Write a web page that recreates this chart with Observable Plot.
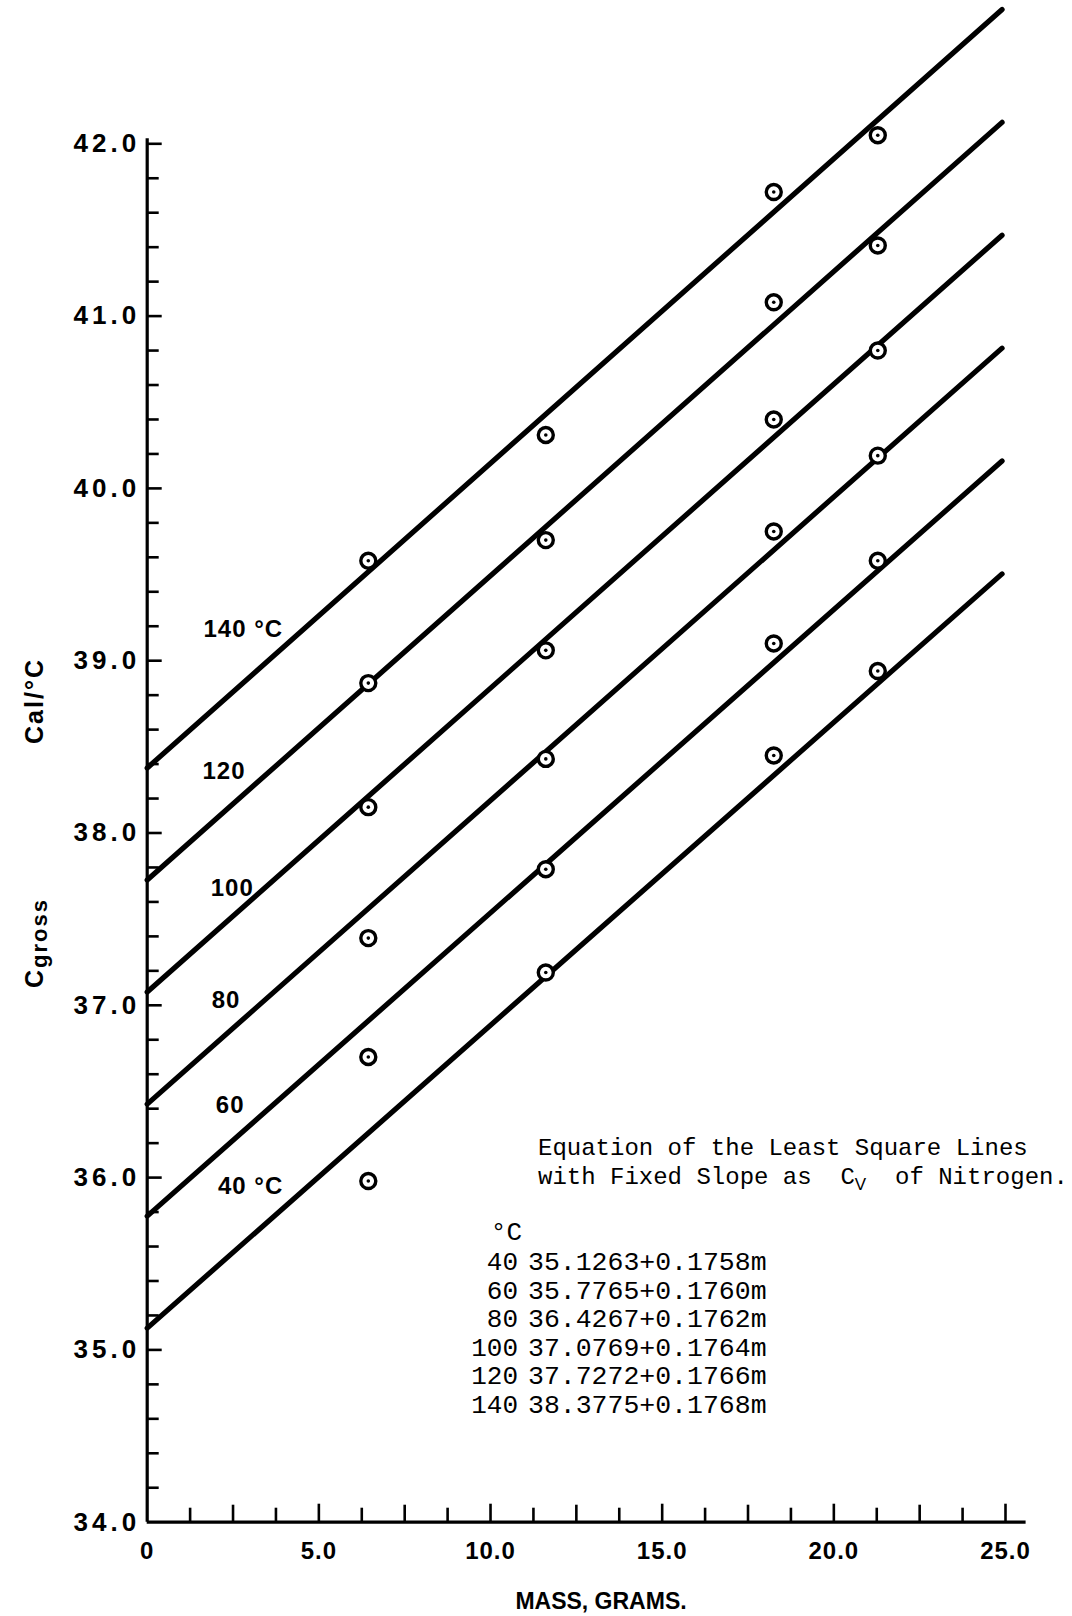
<!DOCTYPE html>
<html><head><meta charset="utf-8">
<script src="https://cdn.jsdelivr.net/npm/d3@7"></script>
<script src="https://cdn.jsdelivr.net/npm/@observablehq/plot@0.6"></script>
<style>
body{margin:0;background:#fff;}
#chart{width:1072px;height:1616px;}
</style></head><body><div id="chart"></div>
<script>
// Temperatures and least-square line coefficients (from the table on the chart)
const temperatures = [40, 60, 80, 100, 120, 140];
const intercepts = [35.1263, 35.7765, 36.4267, 37.0769, 37.7272, 38.3775];
const slopes = [0.1758, 0.1760, 0.1762, 0.1764, 0.1766, 0.1768];

// Measured points (mass in grams, C gross in cal/°C)
const masses = [6.44, 11.61, 18.25, 21.28];
const cgross40 = [35.98, 37.19, 38.45, 38.94];
const cgross60 = [36.70, 37.79, 39.10, 39.58];
const cgross80 = [37.39, 38.43, 39.75, 40.19];
const cgross100 = [38.15, 39.06, 40.40, 40.80];
const cgross120 = [38.87, 39.70, 41.08, 41.41];
const cgross140 = [39.58, 40.31, 41.72, 42.05];

// Line labels
const lineLabels = ["40 °C", "60", "80", "100", "120", "140 °C"];
const lineLabelMass = [2.06, 2.0, 1.88, 1.85, 1.61, 1.64];
const lineLabelValue = [35.95, 36.42, 37.03, 37.68, 38.36, 39.18];

// Axes
const xTicks = [0, 5, 10, 15, 20, 25];
const xTickLabels = ["0", "5.0", "10.0", "15.0", "20.0", "25.0"];
const yTicks = [34, 35, 36, 37, 38, 39, 40, 41, 42];
const xLabel = "MASS, GRAMS.";

// Table text
const tableTitle1 = "Equation of the Least Square Lines";
const tableTemps = ["40", "60", "80", "100", "120", "140"];
const tableEqs = ["35.1263+0.1758m", "35.7765+0.1760m", "36.4267+0.1762m", "37.0769+0.1764m", "37.7272+0.1766m", "38.3775+0.1768m"];

const cgrossByTemp = [cgross40, cgross60, cgross80, cgross100, cgross120, cgross140];
const points = temperatures.flatMap((t, i) => masses.map((m, j) => ({temp: t, mass: m, cgross: cgrossByTemp[i][j]})));
const fits = temperatures.flatMap((t, i) => [0, 24.9].map(m => ({temp: t, mass: m, value: intercepts[i] + slopes[i] * m})));
const labels = lineLabels.map((s, i) => ({text: s, mass: lineLabelMass[i], value: lineLabelValue[i]}));

const xMinor = d3.range(1, 21).map(k => k * 1.25).filter(v => v % 5 !== 0);
const xLong = xMinor.filter(v => v % 2.5 === 0);
const xShort = xMinor.filter(v => v % 2.5 !== 0);
const yMajor = yTicks.filter(v => v > 34);
const yMinor = d3.range(171, 210).filter(k => k % 5 !== 0).map(k => k / 5);

const FONT = "Liberation Sans, Arial, sans-serif";

const svg = Plot.plot({
  width: 1072,
  height: 1616,
  marginLeft: 146.7,
  marginRight: 67,
  marginTop: 143.3,
  marginBottom: 94.3,
  style: {fontFamily: FONT, color: "#000", background: "#fff", overflow: "visible"},
  x: {domain: [0, 25]},
  y: {domain: [34, 42]},
  marks: [
    Plot.axisY(yTicks, {anchor: "left", tickSize: 0, tickPadding: 7, tickFormat: d => d.toFixed(1), fontSize: 26, fontWeight: "bold", fontFamily: FONT, label: null}),
    Plot.axisX(xTicks, {anchor: "bottom", tickSize: 0, tickPadding: 20, tickFormat: (d, i) => xTickLabels[i], fontSize: 24, fontWeight: "bold", fontFamily: FONT, label: null}),
    // axis lines
    Plot.ruleX([0], {y1: 34, y2: 42.03, strokeWidth: 3.2, stroke: "#000"}),
    Plot.ruleY([34], {x1: 0, x2: 25.6, strokeWidth: 3.2, stroke: "#000"}),
    // y ticks (inward)
    Plot.ruleY(yMajor, {x1: 0, x2: 0, insetRight: -15, strokeWidth: 2.6, stroke: "#000"}),
    Plot.ruleY(yMinor, {x1: 0, x2: 0, insetRight: -12, strokeWidth: 2.6, stroke: "#000"}),
    // x ticks (inward)
    Plot.ruleX(xTicks.filter(v => v > 0), {y1: 34, y2: 34, insetTop: -18, strokeWidth: 2.6, stroke: "#000"}),
    Plot.ruleX(xLong, {y1: 34, y2: 34, insetTop: -17, strokeWidth: 2.6, stroke: "#000"}),
    Plot.ruleX(xShort, {y1: 34, y2: 34, insetTop: -14, strokeWidth: 2.6, stroke: "#000"}),
    // fitted lines
    Plot.line(fits, {x: "mass", y: "value", z: "temp", stroke: "#000", strokeWidth: 5.2, strokeLinecap: "round"}),
    // points
    Plot.dot(points, {x: "mass", y: "cgross", r: 7.5, stroke: "#000", strokeWidth: 3.4, fill: "#fff"}),
    Plot.dot(points, {x: "mass", y: "cgross", r: 1.8, fill: "#000", stroke: null}),
    // line labels
    Plot.text(labels, {x: "mass", y: "value", text: "text", textAnchor: "start", fontSize: 24, fontWeight: "bold", fontFamily: FONT, fill: "#000"})
  ]
});

document.getElementById("chart").appendChild(svg);
const s = d3.select(svg);
s.selectAll("[aria-label='y-axis tick label'] text").attr("letter-spacing", "4px");
s.selectAll("[aria-label='x-axis tick label'] text").attr("letter-spacing", "1px");
s.selectAll("[aria-label='text'] text").attr("letter-spacing", "1px");

// x axis title
s.append("text").attr("x", 601).attr("y", 1609).attr("text-anchor", "middle")
  .attr("font-family", FONT).attr("font-weight", "bold").attr("font-size", 23).attr("letter-spacing", "0px")
  .text(xLabel);

// y axis title (rotated)
const yt = s.append("g").attr("font-family", FONT).attr("font-weight", "bold").attr("font-size", 25).attr("letter-spacing", "2px");
yt.append("text").attr("transform", "translate(43,701) rotate(-90)").attr("text-anchor", "middle").text("Cal/°C");
const cg = yt.append("text").attr("transform", "translate(43,943) rotate(-90)").attr("text-anchor", "middle");
cg.append("tspan").text("C");
cg.append("tspan").attr("font-size", 22).attr("dy", 4).text("gross");

// equation table
const MONO = "Liberation Mono, Courier New, monospace";
const tb = s.append("g").attr("font-family", MONO).attr("fill", "#000").attr("text-anchor", "start");
tb.append("text").attr("x", 538).attr("y", 1155).attr("font-size", 24).attr("text-anchor", "start").text(tableTitle1);
const t2 = tb.append("text").attr("x", 538).attr("y", 1184).attr("font-size", 24).attr("text-anchor", "start").style("white-space", "pre");
t2.append("tspan").text("with Fixed Slope as  C");
t2.append("tspan").attr("font-size", 17).attr("font-family", FONT).attr("dy", 6).text("V");
t2.append("tspan").attr("dy", -6).text("  of Nitrogen.");
tb.append("text").attr("x", 522).attr("y", 1240).attr("text-anchor", "end").attr("font-size", 26).text("°C");
tableTemps.forEach((t, i) => {
  const y = 1270 + i * 28.5;
  tb.append("text").attr("x", 518).attr("y", y).attr("text-anchor", "end").attr("font-size", 26).text(t);
  tb.append("text").attr("x", 528).attr("y", y).attr("text-anchor", "start").attr("font-size", 26.5).text(tableEqs[i]);
});
</script>
</body></html>
